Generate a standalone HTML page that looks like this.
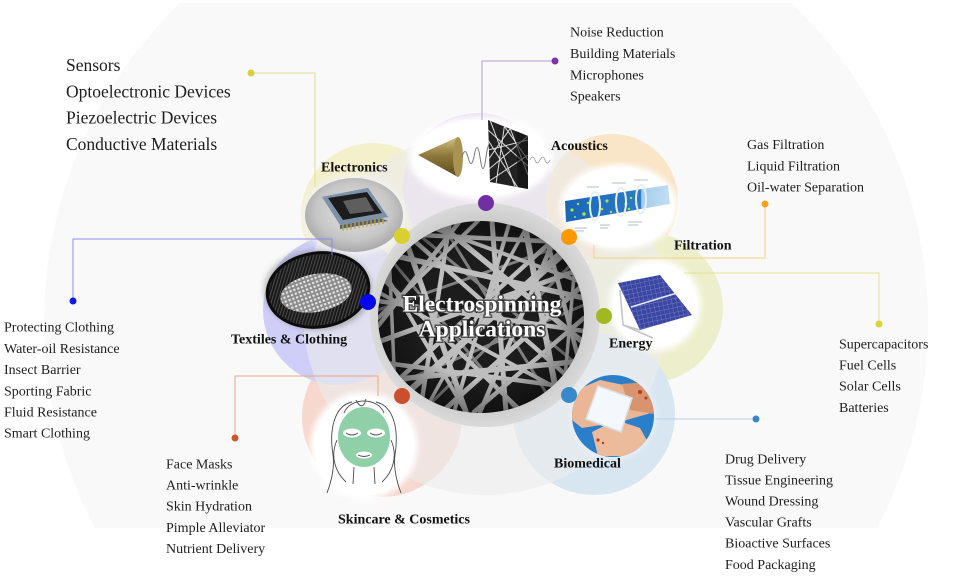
<!DOCTYPE html>
<html><head><meta charset="utf-8">
<style>
html,body{margin:0;padding:0;background:#fff;width:955px;height:583px;overflow:hidden;}
svg{display:block;}
text{font-family:"Liberation Serif","DejaVu Serif",serif;}
.l{font-size:14px;fill:#1e1e1e;}
.b{font-size:14px;font-weight:bold;fill:#111;}
.t{font-size:17.5px;fill:#1e1e1e;}
</style></head><body>
<svg width="955" height="583" viewBox="0 0 955 583" xmlns="http://www.w3.org/2000/svg">
<defs>
 <filter id="blur3" x="-30%" y="-30%" width="160%" height="160%"><feGaussianBlur stdDeviation="3"/></filter>
 <clipPath id="fib"><ellipse cx="481" cy="317" rx="103" ry="96"/></clipPath>
 <clipPath id="acsq"><polygon points="488,120 528,136 528,189 490,182"/></clipPath>
 <clipPath id="bio"><circle cx="613" cy="416" r="41"/></clipPath>
 <radialGradient id="ringg" cx="50%" cy="50%" r="50%"><stop offset="0.8" stop-color="#c8c8c8"/><stop offset="1" stop-color="#dadada"/></radialGradient>
 <radialGradient id="fibshade" cx="50%" cy="50%" r="50%"><stop offset="0.65" stop-color="#000" stop-opacity="0"/><stop offset="1" stop-color="#000" stop-opacity="0.4"/></radialGradient>
 <radialGradient id="chipbg" cx="50%" cy="45%" r="55%"><stop offset="0" stop-color="#e4e4e4"/><stop offset="0.7" stop-color="#c6c6c6"/><stop offset="1" stop-color="#a8a8a8"/></radialGradient>
 <linearGradient id="cone" x1="0" y1="0" x2="0" y2="1"><stop offset="0" stop-color="#d3c28a"/><stop offset="0.45" stop-color="#8e7a3c"/><stop offset="1" stop-color="#5a4a1e"/></linearGradient>
 <linearGradient id="tube" gradientUnits="userSpaceOnUse" x1="565" y1="0" x2="670" y2="0"><stop offset="0" stop-color="#1b66b6"/><stop offset="0.72" stop-color="#2a7bcc"/><stop offset="0.73" stop-color="#a5cdea"/><stop offset="1" stop-color="#c2def2"/></linearGradient>
 <pattern id="mesh" width="3" height="3" patternUnits="userSpaceOnUse" patternTransform="rotate(25)"><rect width="3" height="3" fill="#161616"/><rect width="1.1" height="3" fill="#4a4a4a"/></pattern>
 <pattern id="mesh2" width="4" height="4" patternUnits="userSpaceOnUse" patternTransform="rotate(-10)"><rect width="4" height="4" fill="#8a8a8a"/><rect width="2.2" height="2.2" fill="#e6e6e6"/></pattern>
 <pattern id="solar" width="4.5" height="4.5" patternUnits="userSpaceOnUse" patternTransform="rotate(-12)"><rect width="4.5" height="4.5" fill="#3a46a2"/><path d="M0 0H4.5M0 0V4.5" stroke="#7d88cc" stroke-width="0.7"/></pattern>
</defs>

<!-- huge background circle (pre-clipped) -->
<path d="M180.1,3 L791.9,3 A442,442 0 0 1 877.1,528 L94.9,528 A442,442 0 0 1 180.1,3 Z" fill="#f9f9f9"/>

<!-- petals -->
<g opacity="0.9">
 <circle cx="373" cy="215" r="72" fill="#f4f0c8"/>
 <circle cx="478" cy="188" r="75" fill="#e8dbef"/>
 <circle cx="612" cy="200" r="66" fill="#fae3c2"/>
 <circle cx="648" cy="308" r="75" fill="#ecefc8"/>
 <circle cx="594" cy="414" r="81" fill="#d5e4f1"/>
 <circle cx="382" cy="417" r="80" fill="#f6d5cb"/>
 <circle cx="338" cy="310" r="75" fill="#cacaf8"/>
</g>
<!-- big overlay -->
<circle cx="485" cy="313" r="182" fill="#ebebeb" opacity="0.62"/>

<!-- halos -->
<g fill="#fff" filter="url(#blur3)" opacity="0.95">
 <ellipse cx="481" cy="158" rx="72" ry="42"/>
 <ellipse cx="619" cy="207" rx="59" ry="43"/>
 <circle cx="655" cy="305" r="46"/>
 <circle cx="364" cy="446" r="54"/>
</g>
<g filter="url(#blur3)">
 <ellipse cx="354" cy="215" rx="52" ry="40" fill="#f2f2f2"/>
 <circle cx="613" cy="416" r="44" fill="#e8eef4"/>
 <ellipse cx="318" cy="290" rx="54" ry="40" fill="#777" opacity="0.5"/>
</g>

<!-- electronics chip -->
<ellipse cx="354" cy="215" rx="49" ry="37" fill="url(#chipbg)"/>
<polygon points="322,197 368,188 388,217 340,225 340,229 388,221" fill="#55606e"/>
<g stroke="#c9a235" stroke-width="1.3">
 <path d="M343,224v7M347,223.3v7M351,222.6v7M355,221.9v7M359,221.2v7M363,220.5v7M367,219.8v7M371,219.1v7M375,218.4v7M379,217.7v7M383,217v7"/>
</g>
<polygon points="322,197 368,188 388,217 340,225" fill="#7e93aa"/>
<polygon points="328,198 367,192 382,213 343,220" fill="#1c1c1c"/>
<polygon points="343,201 366,197 374,211 350,214" fill="#5e5e5e"/>

<!-- acoustics -->
<ellipse cx="481" cy="158" rx="68" ry="38" fill="#fff"/>
<polygon points="418,155 458,137 458,177" fill="url(#cone)"/>
<ellipse cx="458" cy="157" rx="5" ry="20" fill="#a89450"/>
<path d="M462,157 Q465,146 468,157 Q471,170 474,157 Q477,138 480,157 Q483,180 486,157 Q489,136 492,150" fill="none" stroke="#777" stroke-width="1"/>
<polygon points="488,120 528,136 528,189 490,182" fill="#222"/>
<g clip-path="url(#acsq)" stroke="#ddd" stroke-width="1">
 <path d="M488,130L528,166M488,150L528,140M490,120L516,189M505,122L496,184M488,170L528,136M510,128L528,175M488,182L528,155M488,140L518,188M500,120L528,160M488,160L512,126"/>
</g>
<polygon points="516,131 528,136 528,189 518,187" fill="#111" opacity="0.6"/>
<path d="M530,160 q3,-6 5,0 t5,0 t5,0 t5,0" fill="none" stroke="#999" stroke-width="0.8"/>

<!-- filtration -->
<ellipse cx="619" cy="207" rx="55" ry="40" fill="#fff"/>
<polygon points="565,201 668,185 670,204 566,222" fill="url(#tube)"/>
<g fill="#a8e23c">
 <circle cx="572" cy="210" r="1.6"/><circle cx="578" cy="204" r="1.2"/><circle cx="584" cy="214" r="1.8"/><circle cx="588" cy="203" r="1.2"/>
 <circle cx="602" cy="209" r="1.3"/><circle cx="607" cy="201" r="1.6"/><circle cx="611" cy="212" r="1.2"/><circle cx="626" cy="204" r="1.5"/>
 <circle cx="631" cy="198" r="1.2"/><circle cx="629" cy="209" r="1.2"/><circle cx="636" cy="204" r="1.2"/><circle cx="575" cy="217" r="1"/>
</g>
<g fill="none" stroke="#e6eef6" stroke-width="2">
 <ellipse cx="595" cy="206" rx="5" ry="14"/><ellipse cx="621" cy="202" rx="5" ry="14"/><ellipse cx="641" cy="199" rx="5" ry="14"/>
</g>
<g stroke="#9aa8b8" stroke-width="0.8">
 <path d="M587,187h12M612,183h14M634,180h14M575,228h12M600,225h10M628,222h14M575,231h9M600,228h8M628,225h10"/>
</g>

<!-- energy -->
<circle cx="655" cy="305" r="42" fill="#fff"/>
<path d="M620,290 L623,325 L653,338 M623,325 L640,330" fill="none" stroke="#c4c4c4" stroke-width="1.6"/>
<polygon points="618,283 660,275 692,315 640,330" fill="url(#solar)"/>
<path d="M631,307 L677,293" stroke="#e8e8f4" stroke-width="1.5"/>

<!-- biomedical -->
<circle cx="613" cy="416" r="41" fill="#2b7fca"/>
<g clip-path="url(#bio)">
 <polygon points="572,392 600,380 628,386 650,398 654,412 620,422 582,428 572,420" fill="#ebb696"/>
 <polygon points="622,384 648,382 654,396 654,414 630,410" fill="#d8946e"/>
 <polygon points="592,432 616,420 640,428 650,446 632,456 598,456" fill="#ecbb9c"/>
 <polygon points="598,386 632,398 621,432 586,419" fill="#f4f8fc" stroke="#d6e0ea" stroke-width="1.5"/>
 <g fill="#b83a1c"><circle cx="640" cy="392" r="2"/><circle cx="646" cy="398" r="1.5"/><circle cx="598" cy="440" r="1.6"/><circle cx="603" cy="443" r="1.2"/></g>
</g>

<!-- skincare -->
<circle cx="364" cy="446" r="50" fill="#fff"/>
<ellipse cx="364" cy="437" rx="26" ry="30" fill="#8fd0a8"/>
<g fill="#fff"><ellipse cx="352" cy="433" rx="9" ry="4.5"/><ellipse cx="376" cy="433" rx="9" ry="4.5"/><ellipse cx="364" cy="455" rx="8" ry="3.5"/></g>
<g fill="none" stroke="#4a4a4a" stroke-width="0.9">
 <path d="M346,433 Q352,437 358,433M370,433 Q376,437 382,433M358,455 Q364,458 370,455"/>
 <path d="M352,402 C334,406 329,430 333,455 C335,470 330,485 327,493"/>
 <path d="M376,402 C394,406 399,430 395,455 C393,470 398,485 401,493"/>
 <path d="M344,413 C350,397 378,397 384,413M356,400 C360,408 364,408 366,399"/>
 <path d="M337,440 C330,456 335,472 346,482M391,440 C398,456 393,472 382,482"/>
 <path d="M354,467 L353,484M374,467 L375,484"/>
</g>

<!-- textiles -->
<ellipse cx="318" cy="290" rx="51" ry="37" transform="rotate(-8 318 290)" fill="url(#mesh)"/>
<ellipse cx="316" cy="293" rx="36" ry="19" transform="rotate(-10 316 293)" fill="url(#mesh2)"/>
<ellipse cx="318" cy="290" rx="51" ry="37" transform="rotate(-8 318 290)" fill="none" stroke="#0c0c0c" stroke-width="3"/>

<!-- center ring -->
<ellipse cx="485" cy="315" rx="115" ry="112" fill="url(#ringg)"/>
<ellipse cx="481" cy="317" rx="103" ry="96" fill="#1c1c1c"/>
<g clip-path="url(#fib)" stroke-linecap="round">
 <g stroke="#808080" stroke-width="3">
  <path d="M378,310L584,238M440,221L558,412M378,392L584,305M584,370L402,221M378,244L518,412M584,252L422,412"/>
 </g>
 <g stroke="#bebebe">
  <path d="M378,252L584,298" stroke-width="5.5"/>
  <path d="M378,342L584,268" stroke-width="5"/>
  <path d="M399,221L466,412" stroke-width="5.5"/>
  <path d="M450,221L420,412" stroke-width="4.5"/>
  <path d="M524,221L560,412" stroke-width="6"/>
  <path d="M562,221L480,412" stroke-width="4.5"/>
  <path d="M378,381L584,361" stroke-width="5.5"/>
  <path d="M392,221L584,391" stroke-width="4.5"/>
  <path d="M378,301L584,331" stroke-width="4.5"/>
  <path d="M584,236L386,412" stroke-width="5.5"/>
  <path d="M492,221L506,412" stroke-width="5"/>
  <path d="M378,274L522,412" stroke-width="4.5"/>
  <path d="M436,221L584,343" stroke-width="5.5"/>
  <path d="M378,233L584,243" stroke-width="4.5"/>
  <path d="M542,221L584,380" stroke-width="4.5"/>
  <path d="M378,398L574,221" stroke-width="4.5"/>
  <path d="M460,221L378,326" stroke-width="4.5"/>
  <path d="M378,362L584,389" stroke-width="4.5"/>
  <path d="M584,284L442,412" stroke-width="5"/>
  <path d="M414,221L584,283" stroke-width="4"/>
  <path d="M378,318L478,221" stroke-width="4"/>
  <path d="M474,412L584,318" stroke-width="4.5"/>
  <path d="M378,292L584,403" stroke-width="4"/>
  <path d="M510,221L454,412" stroke-width="4"/>
  <path d="M378,262L466,412" stroke-width="4"/>
  <path d="M424,412L530,221" stroke-width="3.5"/>
  <path d="M384,412L584,230" stroke-width="3.5"/>
  <path d="M388,230L396,412" stroke-width="3.5"/>
  <path d="M578,230L562,412" stroke-width="3.5"/>
 </g>
 <ellipse cx="481" cy="317" rx="103" ry="96" fill="url(#fibshade)"/>
</g>

<!-- ring dots -->
<circle cx="402" cy="236" r="8" fill="#d9cf2e"/>
<circle cx="486" cy="203" r="8" fill="#7030a2"/>
<circle cx="569" cy="237" r="8" fill="#ff9800"/>
<circle cx="604" cy="316" r="8" fill="#a2b820"/>
<circle cx="569" cy="395" r="8" fill="#3a88cc"/>
<circle cx="402" cy="396" r="8" fill="#cc4f2d"/>
<circle cx="368" cy="302" r="8" fill="#0505ee"/>

<!-- connectors -->
<g fill="none" stroke-width="1">
 <polyline points="251,73 315,73 315,187" stroke="#e4dc96"/>
 <polyline points="555,61 482,61 482,120" stroke="#b49fd2"/>
 <polyline points="765,204 765,258 594,258 594,245" stroke="#f5cd88"/>
 <polyline points="879,324 879,273 684,273" stroke="#e6e090"/>
 <polyline points="756,419 655,419" stroke="#bad0e6"/>
 <polyline points="235,438 235,376 378,376 378,396" stroke="#e8a888"/>
 <polyline points="73,301 73,239 332,239 332,255" stroke="#8a8aee"/>
</g>
<circle cx="251" cy="73" r="3.5" fill="#d6cf3c"/>
<circle cx="555" cy="61" r="3.5" fill="#7a35a8"/>
<circle cx="765" cy="204" r="3.5" fill="#f7a21b"/>
<circle cx="879" cy="324" r="3.5" fill="#d9d23a"/>
<circle cx="756" cy="419" r="3.5" fill="#3a86c8"/>
<circle cx="235" cy="438" r="3.5" fill="#cf5532"/>
<circle cx="73" cy="301" r="3.5" fill="#1414e6"/>

<!-- center text -->
<g font-size="23.5" font-weight="bold" text-anchor="middle">
 <text x="482" y="311.5" fill="none" stroke="#222" stroke-width="3" stroke-opacity="0.7">Electrospinning</text>
 <text x="482" y="336.5" fill="none" stroke="#222" stroke-width="3" stroke-opacity="0.7">Applications</text>
 <text x="482" y="311.5" fill="#fff">Electrospinning</text>
 <text x="482" y="336.5" fill="#fff">Applications</text>
</g>

<!-- labels -->
<text class="b" x="321" y="171.7">Electronics</text>
<text class="b" x="551" y="150">Acoustics</text>
<text class="b" x="674" y="249.3">Filtration</text>
<text class="b" x="609" y="347.7">Energy</text>
<text class="b" x="554" y="467.3">Biomedical</text>
<text class="b" x="231" y="343.3">Textiles &amp; Clothing</text>
<text class="b" x="338" y="523.3">Skincare &amp; Cosmetics</text>

<!-- lists -->
<text class="t" x="66" y="71">Sensors</text>
<text class="t" x="66" y="97.3">Optoelectronic Devices</text>
<text class="t" x="66" y="123.6">Piezoelectric Devices</text>
<text class="t" x="66" y="150">Conductive Materials</text>

<text class="l" x="570" y="36.7">Noise Reduction</text>
<text class="l" x="570" y="58">Building Materials</text>
<text class="l" x="570" y="79.3">Microphones</text>
<text class="l" x="570" y="100.6">Speakers</text>

<text class="l" x="747" y="149">Gas Filtration</text>
<text class="l" x="747" y="170.3">Liquid Filtration</text>
<text class="l" x="747" y="191.6">Oil-water Separation</text>

<text class="l" x="839" y="348.3">Supercapacitors</text>
<text class="l" x="839" y="369.5">Fuel Cells</text>
<text class="l" x="839" y="390.7">Solar Cells</text>
<text class="l" x="839" y="411.9">Batteries</text>

<text class="l" x="725" y="463.3">Drug Delivery</text>
<text class="l" x="725" y="484.4">Tissue Engineering</text>
<text class="l" x="725" y="505.5">Wound Dressing</text>
<text class="l" x="725" y="526.6">Vascular Grafts</text>
<text class="l" x="725" y="547.7">Bioactive Surfaces</text>
<text class="l" x="725" y="568.8">Food Packaging</text>

<text class="l" x="166" y="468.3">Face Masks</text>
<text class="l" x="166" y="489.5">Anti-wrinkle</text>
<text class="l" x="166" y="510.7">Skin Hydration</text>
<text class="l" x="166" y="531.9">Pimple Alleviator</text>
<text class="l" x="166" y="553.1">Nutrient Delivery</text>

<text class="l" x="4" y="331.7">Protecting Clothing</text>
<text class="l" x="4" y="352.9">Water-oil Resistance</text>
<text class="l" x="4" y="374.1">Insect Barrier</text>
<text class="l" x="4" y="395.3">Sporting Fabric</text>
<text class="l" x="4" y="416.5">Fluid Resistance</text>
<text class="l" x="4" y="437.7">Smart Clothing</text>
</svg>
</body></html>
